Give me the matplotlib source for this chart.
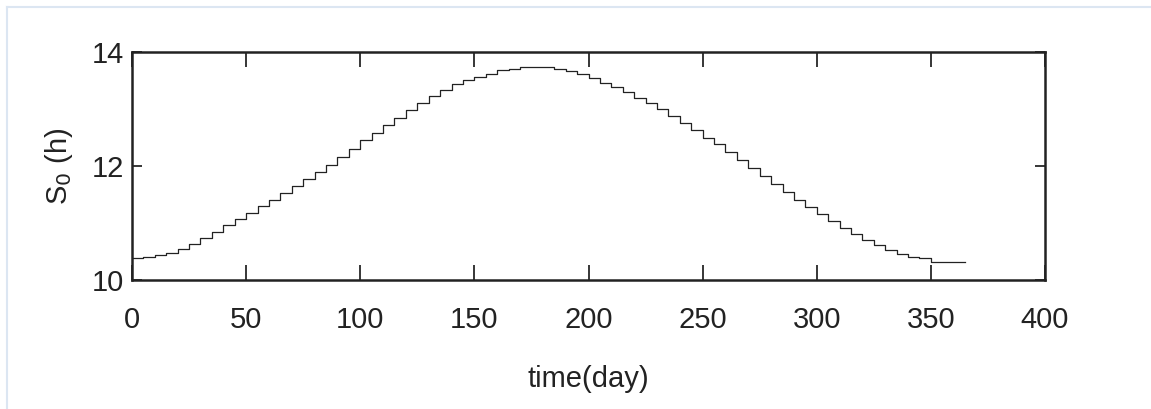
import matplotlib
matplotlib.use('Agg')
import matplotlib.pyplot as plt
from matplotlib.lines import Line2D

# day length, every 5 days
days = list(range(0, 366, 5))
s0 = [10.38, 10.40, 10.44, 10.48, 10.55, 10.64, 10.74, 10.85, 10.96, 11.07,
      11.18, 11.29, 11.40, 11.53, 11.65, 11.77, 11.90, 12.02, 12.15, 12.30,
      12.45, 12.58, 12.72, 12.85, 12.98, 13.10, 13.22, 13.33, 13.43, 13.51,
      13.57, 13.62, 13.68, 13.70, 13.74, 13.74, 13.74, 13.70, 13.67, 13.62,
      13.54, 13.46, 13.38, 13.30, 13.20, 13.10, 13.00, 12.88, 12.76, 12.63,
      12.50, 12.38, 12.24, 12.11, 11.97, 11.83, 11.69, 11.55, 11.41, 11.28,
      11.15, 11.03, 10.91, 10.80, 10.70, 10.61, 10.53, 10.46, 10.41, 10.38,
      10.31, 10.31, 10.31, 10.31]
xticks = [0, 50, 100, 150, 200, 250, 300, 350, 400]
yticks = [10, 12, 14]

plt.rcParams['font.family'] = ['Liberation Sans', 'DejaVu Sans']

fig = plt.figure(figsize=(11.51, 4.09), dpi=100)
ax = fig.add_axes([132 / 1151, 1 - 280 / 409, 913 / 1151, 228 / 409])

ax.plot(days, s0, drawstyle='steps-post', color='#222222', lw=0.9)

ax.set_xlim(0, 400)
ax.set_ylim(10, 14)
ax.set_xticks(xticks)
ax.set_yticks(yticks)
ax.tick_params(axis='x', direction='in', top=True, length=11, width=1.1,
               pad=19, labelsize=21, labelcolor='#222222')
ax.tick_params(axis='y', direction='in', right=True, length=7, width=1.1,
               pad=6, labelsize=21, labelcolor='#222222')
for sp in ax.spines.values():
    sp.set_linewidth(1.8)
    sp.set_color('#222222')

ax.set_xlabel('time(day)', fontsize=21, color='#222222', labelpad=22)
ax.set_ylabel('S$_0$ (h)', fontsize=21, color='#222222', labelpad=12)

# light frame around the figure
c = '#dce6f2'
fig.add_artist(Line2D([7 / 1151, 1], [1 - 7 / 409, 1 - 7 / 409], color=c, lw=1.5))
fig.add_artist(Line2D([7 / 1151, 7 / 1151], [0, 1 - 7 / 409], color=c, lw=1.5))

fig.savefig('out.png', dpi=100)
